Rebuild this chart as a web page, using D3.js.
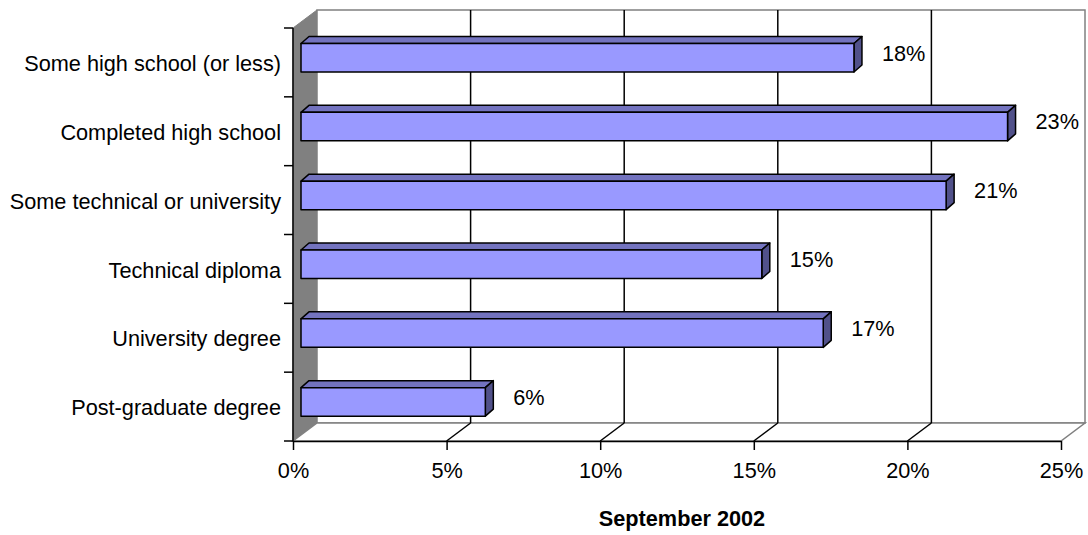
<!DOCTYPE html>
<html>
<head>
<meta charset="utf-8">
<script src="https://cdn.jsdelivr.net/npm/d3@7"></script>
<style>
  body { margin: 0; background: #ffffff; }
  text { font-family: "Liberation Sans", Arial, sans-serif; }
</style>
</head>
<body>
<svg id="chart"></svg>
<script>
// data
var categories = ["Some high school (or less)", "Completed high school", "Some technical or university",
                  "Technical diploma", "University degree", "Post-graduate degree"]
var values = [18, 23, 21, 15, 17, 6]
var xTicks = [0, 5, 10, 15, 20, 25]
var xTitle = "September 2002"

var width = 1088, height = 535
var fontSize = 21.7

// front plane of the plot and the 3d depth of walls / bars
var front = {left: 293, right: 1061, top: 28, bottom: 441}
var wallDx = 24, wallDy = -18
var barDx = 8, barDy = -7

var svg = d3.select("#chart")
    .attr("width", width)
    .attr("height", height)

var x = d3.scaleLinear()
    .domain([0, 25])
    .range([front.left, front.right])

var y = d3.scaleBand()
    .domain(categories)
    .range([front.top, front.bottom])

function pts(arr) {
    return arr.map(function(p){ return p[0] + "," + p[1] }).join(" ")
}

// left side wall
svg.append("polygon")
    .attr("points", pts([[front.left, front.top], [front.left + wallDx, front.top + wallDy],
                         [front.left + wallDx, front.bottom + wallDy], [front.left, front.bottom]]))
    .attr("fill", "#808080")
    .attr("stroke", "#808080")

// back wall
svg.append("rect")
    .attr("x", front.left + wallDx)
    .attr("y", front.top + wallDy)
    .attr("width", front.right - front.left)
    .attr("height", front.bottom - front.top)
    .attr("fill", "#ffffff")
    .attr("stroke", "#808080")
    .attr("stroke-width", 1.5)

// floor
svg.append("polygon")
    .attr("points", pts([[front.left, front.bottom], [front.left + wallDx, front.bottom + wallDy],
                         [front.right + wallDx, front.bottom + wallDy], [front.right, front.bottom]]))
    .attr("fill", "#ffffff")
    .attr("stroke", "#808080")
    .attr("stroke-width", 1.5)

// gridlines on back wall and floor
var inner = xTicks.filter(function(d){ return d > 0 && d < 25 })
svg.selectAll(".grid")
    .data(inner)
    .enter()
    .append("line")
    .attr("x1", function(d){ return x(d) + wallDx })
    .attr("x2", function(d){ return x(d) + wallDx })
    .attr("y1", front.top + wallDy)
    .attr("y2", front.bottom + wallDy)
    .attr("stroke", "#000000")
    .attr("stroke-width", 1.5)
svg.selectAll(".floorgrid")
    .data(inner)
    .enter()
    .append("line")
    .attr("x1", function(d){ return x(d) })
    .attr("x2", function(d){ return x(d) + wallDx })
    .attr("y1", front.bottom)
    .attr("y2", front.bottom + wallDy)
    .attr("stroke", "#000000")
    .attr("stroke-width", 1.5)

// bars
var barTop = 15.5, barH = 28.5
var bars = svg.selectAll(".bar")
    .data(values)
    .enter()
    .append("g")

bars.each(function(v, i) {
    var g = d3.select(this)
    var x0 = x(0) + barDx, x1 = x(v) + barDx
    var y0 = y(categories[i]) + barTop, y1 = y0 + barH
    g.append("polygon")
        .attr("points", pts([[x0, y0], [x0 + barDx, y0 + barDy], [x1 + barDx, y0 + barDy], [x1, y0]]))
        .attr("fill", "#7373bf")
    g.append("polygon")
        .attr("points", pts([[x1, y0], [x1 + barDx, y0 + barDy], [x1 + barDx, y1 + barDy], [x1, y1]]))
        .attr("fill", "#51518a")
    g.append("rect")
        .attr("x", x0)
        .attr("y", y0)
        .attr("width", x1 - x0)
        .attr("height", barH)
        .attr("fill", "#9999ff")
    g.selectAll("polygon, rect")
        .attr("stroke", "#000000")
        .attr("stroke-width", 1.5)
        .attr("stroke-linejoin", "round")
    g.append("text")
        .attr("x", x1 + 28)
        .attr("y", y(categories[i]) + y.bandwidth() / 2 - 9.5)
        .attr("dy", "0.35em")
        .attr("font-size", fontSize + "px")
        .attr("fill", "#000000")
        .text(v + "%")
})

// bottom axis
var xAxis = svg.append("g")
    .attr("transform", "translate(0," + front.bottom + ")")
    .call(d3.axisBottom(x).tickValues(xTicks).tickFormat(function(d){ return d + "%" })
          .tickSize(9).tickSizeOuter(0).tickPadding(13))
xAxis.selectAll("path, line").attr("stroke", "#000000").attr("stroke-width", 1.5)
xAxis.selectAll("text")
    .attr("font-size", fontSize + "px")
    .attr("font-family", "Liberation Sans, Arial, sans-serif")
    .attr("fill", "#000000")

// left axis: line, ticks at category boundaries, labels centred in bands
svg.append("line")
    .attr("x1", front.left).attr("x2", front.left)
    .attr("y1", front.top).attr("y2", front.bottom)
    .attr("stroke", "#000000")
    .attr("stroke-width", 1.5)
var bounds = categories.map(function(c){ return y(c) }).concat([front.bottom])
svg.selectAll(".ytick")
    .data(bounds)
    .enter()
    .append("line")
    .attr("x1", front.left - 9).attr("x2", front.left)
    .attr("y1", function(d){ return d }).attr("y2", function(d){ return d })
    .attr("stroke", "#000000")
    .attr("stroke-width", 1.5)
svg.selectAll(".ylabel")
    .data(categories)
    .enter()
    .append("text")
    .attr("x", front.left - 12)
    .attr("y", function(d){ return y(d) + y.bandwidth() / 2 + 1 })
    .attr("dy", "0.35em")
    .attr("text-anchor", "end")
    .attr("font-size", fontSize + "px")
    .attr("fill", "#000000")
    .text(function(d){ return d })

// axis title
svg.append("text")
    .attr("x", 682)
    .attr("y", 526)
    .attr("text-anchor", "middle")
    .attr("font-size", fontSize + "px")
    .attr("font-weight", "bold")
    .attr("fill", "#000000")
    .text(xTitle)
</script>
</body>
</html>
